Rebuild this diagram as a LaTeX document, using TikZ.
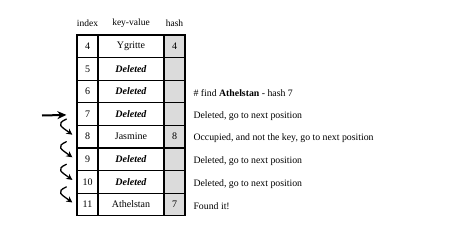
\documentclass[tikz,border=0pt]{standalone}
\usepackage{fontspec}
\setmainfont{Liberation Serif}
\usetikzlibrary{arrows.meta}
\begin{document}
\begin{tikzpicture}[x=1pt,y=-1pt,
  cell/.style={draw=black,line width=1.3pt,minimum height=22.6pt,inner sep=0pt,anchor=center,font=\fontsize{10}{12}\selectfont},
  idxcell/.style={cell,minimum width=21pt},
  kvcell/.style={cell,minimum width=66pt},
  hashcell/.style={cell,minimum width=21pt,fill=black!14},
  head/.style={font=\fontsize{9.5}{11}\selectfont,anchor=center},
  note/.style={font=\fontsize{9.8}{11}\selectfont,anchor=west},
  probe/.style={-{Stealth[length=6pt,width=6pt]},line width=1.3pt,line cap=round},
  start/.style={-{Stealth[length=9pt,width=8pt]},line width=2pt}]
\useasboundingbox (0,0) rectangle (472,242);

% column headers
\node[head] (hidx) at (87.5,23.5) {index};
\node[head] (hkv) at (131,23.5) {key-value};
\node[head] (hhash) at (174.5,23.5) {hash};

% table rows: index, key-value, hash
\foreach \i/\k/\v/\h [count=\r from 0] in {4/Ygritte/0/4,5/Deleted/1/,6/Deleted/1/,7/Deleted/1/,8/Jasmine/0/8,9/Deleted/1/,10/Deleted/1/,11/Athelstan/0/7}{
  \pgfmathsetmacro{\yc}{35+22.6*\r+11.3}
  \node[idxcell] (i\i) at (87.5,\yc) {\i};
  \ifnum\v=1
    \node[kvcell] (k\i) at (131,\yc) {\textbf{\textit{\k}}};
  \else
    \node[kvcell] (k\i) at (131,\yc) {\k};
  \fi
  \node[hashcell] (h\i) at (174.5,\yc) {\h};
}

% notes beside the rows
\node[note] (n6) at (190,93.3) {\# find \textbf{Athelstan} - hash 7};
\node[note] (n7) at (190,115.9) {Deleted, go to next position};
\node[note] (n8) at (190,138.5) {Occupied, and not the key, go to next position};
\node[note] (n9) at (190,161.1) {Deleted, go to next position};
\node[note] (n10) at (190,183.7) {Deleted, go to next position};
\node[note] (n11) at (190,206.3) {Found it!};

% entry arrow at the hashed slot
\coordinate (entry) at (42,115.5);
\draw[start] (entry) -- ([shift={(-10,0.8)}]i7.west);

% linear probing steps
\foreach \a/\b in {7/8,8/9,9/10,10/11}{
  \coordinate (s\a) at ([shift={(-10,5)}]i\a.west);
  \coordinate (e\a) at ([shift={(-4,-2)}]i\b.west);
  \draw[probe] (s\a) .. controls ([shift={(-11,5)}]s\a) and ([shift={(-11,-8)}]e\a) .. (e\a);
}
\end{tikzpicture}
\end{document}
